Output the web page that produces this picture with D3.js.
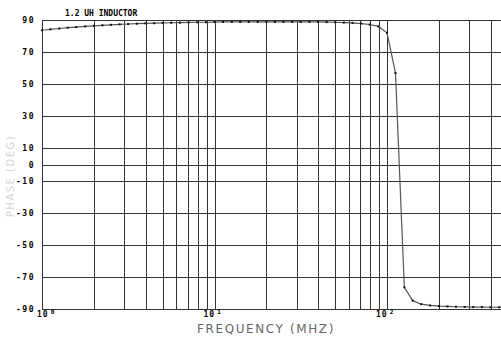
<!DOCTYPE html>
<html lang="en">
<head>
    <meta charset="UTF-8">
    <title>1.2 uH Inductor Phase</title>
    <script src="https://d3js.org/d3.v7.min.js"></script>
    <style>
        html, body { margin: 0; padding: 0; background: #fff; }
        svg { display: block; }
    </style>
</head>
<body>
    <svg width="501" height="339"></svg>

    <script>
        // frequency points (MHz), 20 per decade as plotted by the analyzer
        const freqs = [1.00, 1.12, 1.26, 1.41, 1.58, 1.78, 2.00, 2.24, 2.51, 2.82,
                       3.16, 3.55, 3.98, 4.47, 5.01, 5.62, 6.31, 7.08, 7.94, 8.91,
                       10.0, 11.2, 12.6, 14.1, 15.8, 17.8, 20.0, 22.4, 25.1, 28.2,
                       31.6, 35.5, 39.8, 44.7, 50.1, 56.2, 63.1, 70.8, 79.4, 89.1,
                       100, 112, 126, 141, 158, 178, 200, 224, 251, 282,
                       316, 355, 398, 447, 501];
        // phase angle (deg)
        const phase = [83.6, 84.2, 84.7, 85.2, 85.6, 86.0, 86.4, 86.7, 87.0, 87.3,
                       87.5, 87.7, 87.9, 88.0, 88.2, 88.3, 88.4, 88.5, 88.6, 88.6,
                       88.7, 88.8, 88.8, 88.8, 88.8, 88.8, 88.8, 88.8, 88.8, 88.8,
                       88.8, 88.8, 88.8, 88.7, 88.6, 88.4, 88.2, 87.8, 87.2, 86.0,
                       82.0, 57.0, -76.5, -84.8, -87.0, -87.8, -88.2, -88.4, -88.6, -88.7,
                       -88.8, -88.8, -88.9, -88.9, -89.0];
        const yTicks = [90, 70, 50, 30, 10, 0, -10, -30, -50, -70, -90];
        const decades = [1, 10, 100];
        const decadeLabels = ['0', '1', '2'];

        const svg = d3.select('svg');
        const mono = '"DejaVu Sans Mono", monospace';

        const plotLeft = 42, plotTop = 20, plotBottom = 309, decadeW = 172.5;
        const x = d3.scaleLog().domain([1, 1000]).range([plotLeft, plotLeft + 3 * decadeW]);
        const y = d3.scaleLinear().domain([-90, 90]).range([plotBottom, plotTop]);

        // vertical grid: 1..9 in each decade
        const vLines = [];
        decades.forEach(d => { for (let m = 1; m <= 9; m++) vLines.push(d * m); });

        const grid = svg.append('g').attr('stroke', '#333').attr('stroke-width', 1);
        grid.selectAll('line.v')
            .data(vLines)
            .join('line')
            .attr('class', 'v')
            .attr('x1', d => Math.round(x(d)) + 0.5)
            .attr('x2', d => Math.round(x(d)) + 0.5)
            .attr('y1', plotTop)
            .attr('y2', plotBottom);
        grid.selectAll('line.h')
            .data(yTicks)
            .join('line')
            .attr('class', 'h')
            .attr('x1', plotLeft)
            .attr('x2', 501)
            .attr('y1', d => Math.round(y(d)) + 0.5)
            .attr('y2', d => Math.round(y(d)) + 0.5);

        // y tick labels
        svg.append('g')
            .attr('font-family', mono)
            .attr('font-weight', 'bold')
            .attr('font-size', 8)
            .attr('letter-spacing', 1.5)
            .attr('text-anchor', 'end')
            .selectAll('text')
            .data(yTicks)
            .join('text')
            .attr('x', 35)
            .attr('y', d => y(d) + 3)
            .text(d => d);

        // x decade labels (10 with superscript exponent)
        const xl = svg.append('g')
            .attr('font-family', mono)
            .attr('font-weight', 'bold')
            .attr('font-size', 8)
            .attr('letter-spacing', 1)
            .selectAll('text')
            .data(decades)
            .join('text')
            .attr('x', (d, i) => x(d) + (i === 0 ? -5 : -11))
            .attr('y', 317);
        xl.append('tspan').text('10');
        xl.append('tspan')
            .attr('dx', 2)
            .attr('dy', -3)
            .attr('font-size', 6)
            .text((d, i) => decadeLabels[i]);

        // title
        svg.append('text')
            .attr('x', 65)
            .attr('y', 16)
            .attr('font-family', mono)
            .attr('font-weight', 'bold')
            .attr('font-size', 8)
            .text('1.2 UH INDUCTOR');

        // axis titles
        svg.append('text')
            .attr('x', 266)
            .attr('y', 333)
            .attr('text-anchor', 'middle')
            .attr('font-family', '"DejaVu Sans", sans-serif')
            .attr('font-size', 12)
            .attr('letter-spacing', 1.6)
            .attr('fill', '#666')
            .text('FREQUENCY (MHZ)');

        // faded y title, mostly lost in the scan
        svg.append('text')
            .attr('transform', 'translate(14,176) rotate(-90)')
            .attr('text-anchor', 'middle')
            .attr('font-family', '"DejaVu Sans", sans-serif')
            .attr('font-size', 10)
            .attr('letter-spacing', 1.5)
            .attr('fill', '#d4d4d4')
            .text('PHASE (DEG)');

        // data trace
        const pts = freqs.map((f, i) => [f, phase[i]]);
        svg.append('path')
            .datum(pts)
            .attr('fill', 'none')
            .attr('stroke', '#555')
            .attr('stroke-width', 1.2)
            .attr('d', d3.line().x(d => x(d[0])).y(d => y(d[1])));

        svg.append('g')
            .attr('fill', '#111')
            .selectAll('rect')
            .data(pts)
            .join('rect')
            .attr('x', d => x(d[0]) - 1)
            .attr('y', d => y(d[1]) - 1)
            .attr('width', 2)
            .attr('height', 2);
    </script>
</body>
</html>
